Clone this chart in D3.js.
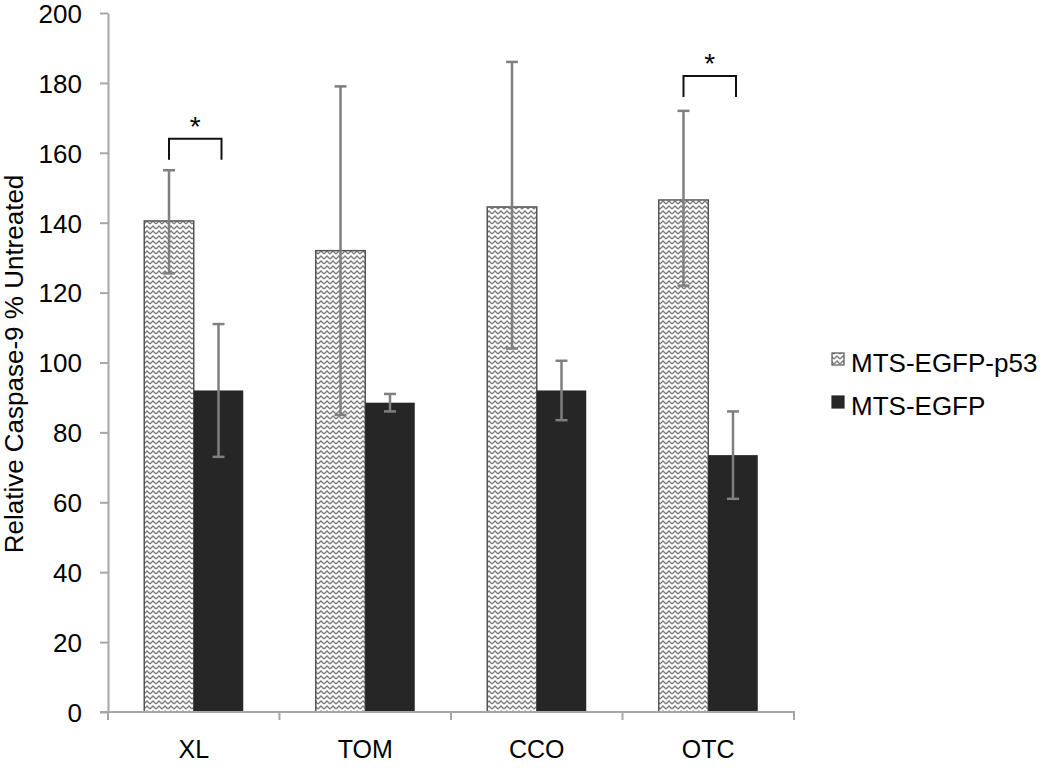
<!DOCTYPE html>
<html><head><meta charset="utf-8">
<script src="https://cdn.jsdelivr.net/npm/d3@7"></script>
<style>body{margin:0;background:#fff}svg{display:block}text{font-family:"Liberation Sans",Arial,sans-serif;fill:#000}</style>
</head><body><div id="chart"></div>
<script>
const categories = ["XL","TOM","CCO","OTC"];
const seriesNames = ["MTS-EGFP-p53","MTS-EGFP"];
const p53Values = [140.5,132,144.5,146.5];
const p53Low = [125.5,85,104,122];
const p53High = [155,179,186,172];
const egfpValues = [92,88.5,92,73.5];
const egfpLow = [73,86,83.5,61];
const egfpHigh = [111,91,100.5,86];
const yTicks = [0,20,40,60,80,100,120,140,160,180,200];
// significance brackets: category, top value, leg bottom value
const sigCats = ["XL","OTC"];
const sigTop = [164,182];
const sigLeg = [158,176];

const W=1050,H=772;
const svg=d3.select("#chart").append("svg").attr("width",W).attr("height",H);
const defs=svg.append("defs");
const pat=defs.append("pattern").attr("id","zig").attr("patternUnits","userSpaceOnUse").attr("width",6).attr("height",5);
pat.append("rect").attr("width",6).attr("height",5).attr("fill","#fff");
pat.append("path").attr("d","M0,4 L3,1 L6,4").attr("fill","none").attr("stroke","#7a7a7a").attr("stroke-width",1.4);

const x0=d3.scaleBand().domain(categories).range([108,794]).padding(0);
const y=d3.scaleLinear().domain([0,200]).range([712,13]);
const barW=49.5;
const fills=["url(#zig)","#262626"];
const vals=[p53Values,egfpValues], lows=[p53Low,egfpLow], highs=[p53High,egfpHigh];

const g=svg.append("g");
categories.forEach((c,i)=>{
  const cx=x0(c)+x0.bandwidth()/2;
  [0,1].forEach(s=>{
    const xl=cx-barW+s*barW;
    g.append("rect").attr("x",xl).attr("y",y(vals[s][i])).attr("width",barW).attr("height",y(0)-y(vals[s][i]))
      .attr("fill",fills[s]).attr("stroke",s===0?"#555":"none").attr("stroke-width",1.5);
  });
});
// error bars
categories.forEach((c,i)=>{
  const cx=x0(c)+x0.bandwidth()/2;
  [0,1].forEach(s=>{
    const ex=cx-barW/2+s*barW;
    const eg=g.append("g").attr("stroke","#7f7f7f").attr("stroke-width",2.5);
    eg.append("line").attr("x1",ex).attr("x2",ex).attr("y1",y(lows[s][i])).attr("y2",y(highs[s][i]));
    [lows[s][i],highs[s][i]].forEach(v=>eg.append("line").attr("x1",ex-6).attr("x2",ex+6).attr("y1",y(v)).attr("y2",y(v)));
  });
});
// significance
sigCats.forEach((c,k)=>{
  const cx=x0(c)+x0.bandwidth()/2;
  const a=cx-barW/2, b=cx+barW/2+3;
  g.append("path").attr("d",`M${a},${y(sigLeg[k])} V${y(sigTop[k])} H${b} V${y(sigLeg[k])}`)
    .attr("fill","none").attr("stroke","#111").attr("stroke-width",2);
  g.append("text").attr("x",(a+b)/2).attr("y",y(sigTop[k])-3).attr("text-anchor","middle").attr("font-size",28).text("*");
});

// axes
const axisCol="#a6a6a6";
const yAx=svg.append("g").attr("transform","translate(108,0)")
  .call(d3.axisLeft(y).tickValues(yTicks).tickSize(8).tickPadding(18).tickSizeOuter(0));
yAx.select(".domain").attr("stroke",axisCol).attr("stroke-width",2);
yAx.selectAll(".tick line").attr("stroke",axisCol).attr("stroke-width",2);
yAx.selectAll(".tick text").attr("font-size",26).attr("font-family","Liberation Sans, Arial, sans-serif").attr("fill","#000").attr("dy","0.36em");

const xAx=svg.append("g").attr("transform","translate(0,712)")
  .call(d3.axisBottom(x0).tickSize(0).tickPadding(28).tickSizeOuter(0));
xAx.select(".domain").attr("stroke",axisCol).attr("stroke-width",2).attr("d","M100,0H794");
xAx.selectAll(".tick text").attr("font-size",25).attr("font-family","Liberation Sans, Arial, sans-serif").attr("fill","#000");
// category boundary ticks
const bounds=categories.map(c=>x0(c)).concat([x0(categories[categories.length-1])+x0.bandwidth()]);
svg.append("g").selectAll("line").data(bounds).join("line")
  .attr("x1",d=>d).attr("x2",d=>d).attr("y1",711).attr("y2",720).attr("stroke",axisCol).attr("stroke-width",2);

// y label
svg.append("text").attr("transform","translate(23,364) rotate(-90)").attr("text-anchor","middle")
  .attr("font-size",26).text("Relative Caspase-9 % Untreated");

// legend
const leg=svg.append("g");
seriesNames.forEach((n,i)=>{
  const ly=353+i*43;
  leg.append("rect").attr("x",832).attr("y",ly).attr("width",12).attr("height",12)
    .attr("fill",fills[i]).attr("stroke",i===0?"#555":"#262626").attr("stroke-width",1.2);
  leg.append("text").attr("x",851).attr("y",ly+19).attr("font-size",26).text(n);
});
</script></body></html>
